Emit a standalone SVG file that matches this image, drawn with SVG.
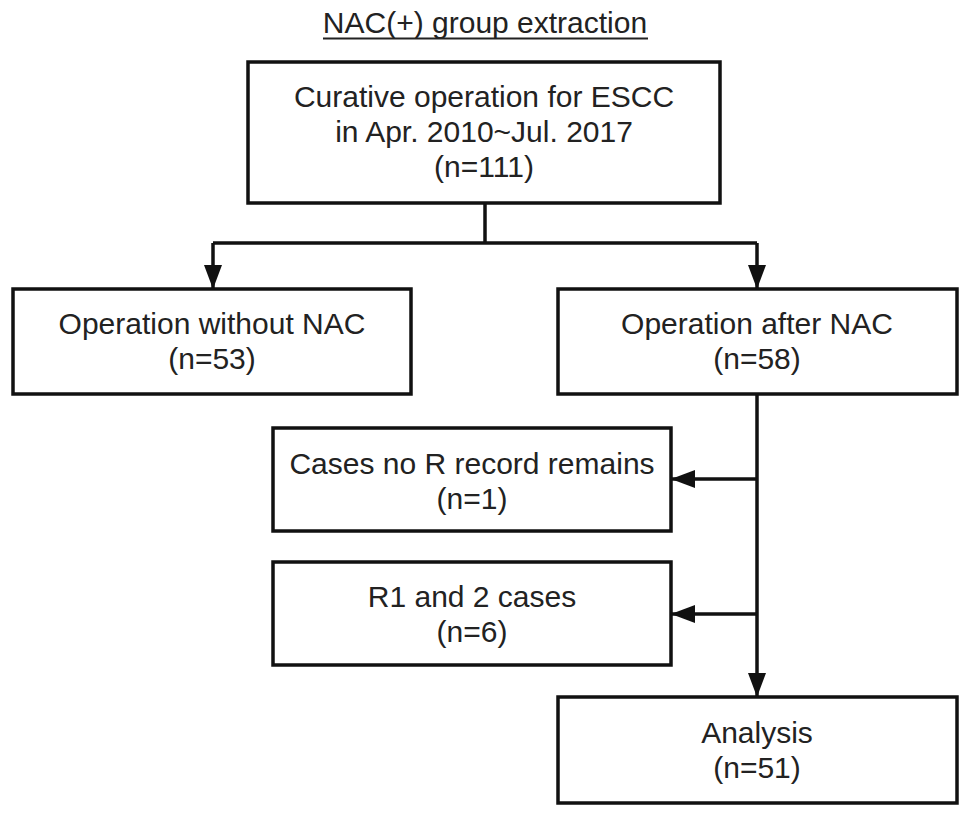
<svg xmlns="http://www.w3.org/2000/svg" width="969" height="818" viewBox="0 0 969 818">
<style>
.box{fill:#fff;stroke:#111;stroke-width:3.5}
.t{font-family:"Liberation Sans",Arial,sans-serif;font-size:30px;fill:#222;text-anchor:middle}
.ln{stroke:#111;stroke-width:3.5;fill:none}
</style>
<defs>
<marker id="ah" markerUnits="userSpaceOnUse" markerWidth="26" markerHeight="26" viewBox="0 0 26 26" refX="24" refY="13" orient="auto">
<path d="M0,4 L24,13 L0,22 Z" fill="#111"/>
</marker>
</defs>
<rect width="969" height="818" fill="#fff"/>
<g id="title">
<text class="t" x="485" y="33">NAC(+) group extraction</text>
<line x1="323" y1="38.5" x2="648" y2="38.5" stroke="#222" stroke-width="1.8"/>
</g>
<g id="connectors">
<polyline class="ln" points="485,203 485,243"/>
<polyline class="ln" points="213,243 757,243"/>
<line class="ln" x1="213" y1="243" x2="213" y2="289" marker-end="url(#ah)"/>
<line class="ln" x1="757" y1="243" x2="757" y2="289" marker-end="url(#ah)"/>
<line class="ln" x1="757" y1="395" x2="757" y2="697" marker-end="url(#ah)"/>
<line class="ln" x1="757" y1="479" x2="671" y2="479" marker-end="url(#ah)"/>
<line class="ln" x1="757" y1="614" x2="671" y2="614" marker-end="url(#ah)"/>
</g>
<g id="n-top">
<rect class="box" x="248" y="62" width="472" height="141"/>
<text class="t" x="484" y="107">Curative operation for ESCC</text>
<text class="t" x="484" y="142">in Apr. 2010~Jul. 2017</text>
<text class="t" x="484" y="177">(n=111)</text>
</g>
<g id="n-without">
<rect class="box" x="13" y="289" width="398" height="105"/>
<text class="t" x="212" y="334">Operation without NAC</text>
<text class="t" x="212" y="369">(n=53)</text>
</g>
<g id="n-after">
<rect class="box" x="558" y="289" width="399" height="105"/>
<text class="t" x="757" y="334">Operation after NAC</text>
<text class="t" x="757" y="369">(n=58)</text>
</g>
<g id="n-norecord">
<rect class="box" x="273" y="428" width="398" height="103"/>
<text class="t" x="472" y="474">Cases no R record remains</text>
<text class="t" x="472" y="509">(n=1)</text>
</g>
<g id="n-r12">
<rect class="box" x="273" y="562" width="398" height="103"/>
<text class="t" x="472" y="607">R1 and 2 cases</text>
<text class="t" x="472" y="642">(n=6)</text>
</g>
<g id="n-analysis">
<rect class="box" x="558" y="697" width="399" height="106"/>
<text class="t" x="757" y="743">Analysis</text>
<text class="t" x="757" y="778">(n=51)</text>
</g>
</svg>
